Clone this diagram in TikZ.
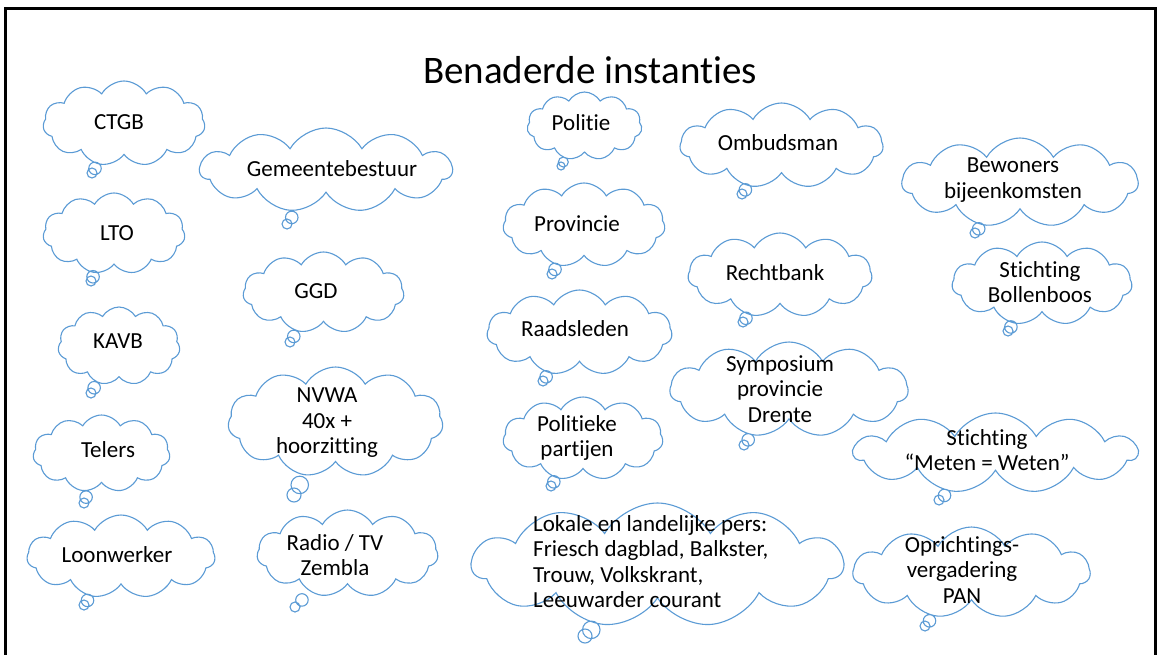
\documentclass[tikz,border=0pt]{standalone}
\usepackage{fontspec}
\setmainfont{Carlito}[Ligatures=CommonOff]
\usetikzlibrary{shapes.symbols,shapes.callouts}
\definecolor{cloudblue}{RGB}{91,155,213}
\tikzset{
  bubble/.style={cloud callout, draw=cloudblue, line width=1.1pt, fill=white,
    cloud puffs=11, cloud puff arc=120, cloud ignores aspect, inner sep=0pt,
    callout pointer segments=2, callout pointer start size=15pt, callout pointer end size=10pt},
  bigptr/.style={callout pointer start size=21pt, callout pointer end size=14pt},
  smallptr/.style={callout pointer start size=12pt, callout pointer end size=8pt},
  txt/.style={font=\fontsize{23}{25.5}\selectfont, align=center, inner sep=0pt, text=black}
}
\begin{document}
\begin{tikzpicture}[x=1pt,y=-1pt]
\useasboundingbox (0,0) rectangle (1158,654);
\fill[white] (0,0) rectangle (1158,654);
\draw[line width=3pt, line join=miter] (5.5,670) -- (5.5,8.5) -- (1155.5,8.5) -- (1155.5,670);
\node[font=\fontsize{39}{42}\selectfont, inner sep=0pt] (title) at (590,70) {Benaderde instanties};

% left column
\node[bubble, minimum width=162pt, minimum height=85pt, callout absolute pointer={(92,173)}] (c1) at (124,123.5) {};
\node[txt] (t1) at (119,122) {CTGB};
\node[bubble, minimum width=142pt, minimum height=81pt, callout absolute pointer={(91,281)}] (c3) at (114,233.5) {};
\node[txt] (t3) at (117,233) {LTO};
\node[bubble, minimum width=122pt, minimum height=78pt, callout absolute pointer={(91,393)}] (c5) at (119,346) {};
\node[txt] (t5) at (118,341) {KAVB};
\node[bubble, minimum width=137pt, minimum height=77pt, callout absolute pointer={(84,503)}] (c7) at (101.5,453.5) {};
\node[txt] (t7) at (108,450) {Telers};
\node[bubble, minimum width=188pt, minimum height=83pt, callout absolute pointer={(84,605)}] (c8) at (121,556.5) {};
\node[txt] (t8) at (117,555) {Loonwerker};

% second column
\node[bubble, minimum width=252pt, minimum height=84pt, callout absolute pointer={(287,224)}] (c2) at (326,170) {};
\node[txt] (t2) at (332,169) {Gemeentebestuur};
\node[bubble, minimum width=161pt, minimum height=81pt, callout absolute pointer={(290,342)}] (c4) at (323.5,292.5) {};
\node[txt] (t4) at (316,291) {GGD};
\node[bubble, bigptr, minimum width=215pt, minimum height=110pt, callout absolute pointer={(294,495)}] (c6) at (335.5,422) {};
\node[txt] (t6) at (327,423) {NVWA\\40x +\\hoorzitting};
\node[bubble, minimum width=181pt, minimum height=87pt, callout absolute pointer={(295,607)}] (c9) at (347.5,553.5) {};
\node[txt] (t9) at (335,555) {Radio / TV\\Zembla};

% middle column
\node[bubble, smallptr, minimum width=115pt, minimum height=68pt, callout absolute pointer={(561,166)}] (c10) at (584.5,126) {};
\node[txt] (t10) at (581,123) {Politie};
\node[bubble, minimum width=162pt, minimum height=84pt, callout absolute pointer={(552,274)}] (c12) at (584,225) {};
\node[txt] (t12) at (577,224) {Provincie};
\node[bubble, minimum width=185pt, minimum height=85pt, callout absolute pointer={(543,381)}] (c14) at (579.5,332.5) {};
\node[txt] (t14) at (575,329) {Raadsleden};
\node[bubble, minimum width=160pt, minimum height=83pt, callout absolute pointer={(551,486)}] (c16) at (583,438.5) {};
\node[txt] (t16) at (577,438) {Politieke\\partijen};
\node[bubble, bigptr, minimum width=371pt, minimum height=124pt, callout absolute pointer={(585,636)}] (c17) at (657.5,565) {};
\node[txt, align=left, anchor=west] (t17) at (533,561.5) {Lokale en landelijke pers:\\Friesch dagblad, Balkster,\\Trouw, Volkskrant,\\Leeuwarder courant};

% fourth column
\node[bubble, minimum width=203pt, minimum height=85pt, callout absolute pointer={(742,194)}] (c11) at (781.5,145.5) {};
\node[txt] (t11) at (778,143) {Ombudsman};
\node[bubble, minimum width=184pt, minimum height=84pt, callout absolute pointer={(743,322)}] (c13) at (780,275) {};
\node[txt] (t13) at (775,273) {Rechtbank};
\node[bubble, minimum width=238pt, minimum height=95pt, callout absolute pointer={(744,445)}] (c15) at (789,389.5) {};
\node[txt] (t15) at (780,389) {Symposium\\provincie\\Drente};

% right column
\node[bubble, minimum width=236pt, minimum height=89pt, callout absolute pointer={(975,233)}] (c18) at (1020,182.5) {};
\node[txt] (t18) at (1013,180) {Bewoners\\bijeenkomsten};
\node[bubble, minimum width=180pt, minimum height=83pt, callout absolute pointer={(1008,331)}] (c19) at (1042,283.5) {};
\node[txt] (t19) at (1040,282) {Stichting\\Bollenboos};
\node[bubble, minimum width=283pt, minimum height=80pt, callout absolute pointer={(939,500)}] (c20) at (995.5,453) {};
\node[txt] (t20) at (987,450) {Stichting\\“Meten = Weten”};
\node[bubble, minimum width=237pt, minimum height=91pt, callout absolute pointer={(925,626)}] (c21) at (971.5,572.5) {};
\node[txt] (t21) at (962,570) {Oprichtings-\\vergadering\\PAN};
\end{tikzpicture}
\end{document}
